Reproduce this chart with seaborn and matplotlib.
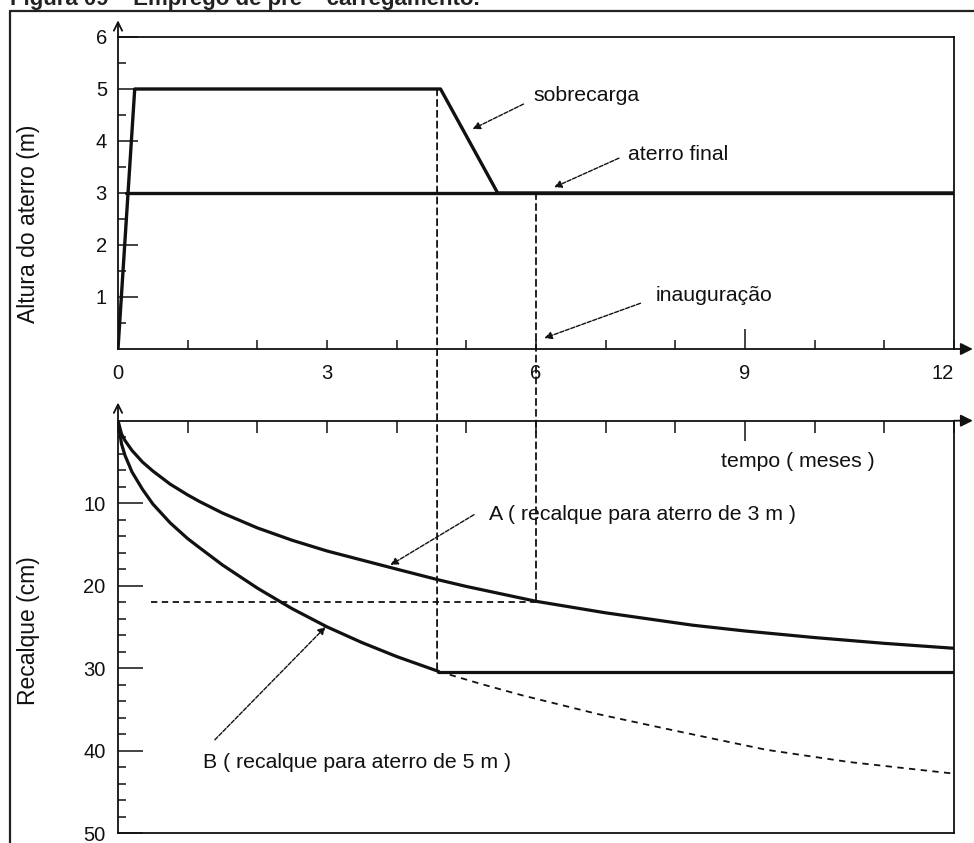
import matplotlib
matplotlib.use("Agg")
import matplotlib.pyplot as plt
from matplotlib.lines import Line2D
from matplotlib.patches import ConnectionPatch
import numpy as np
import seaborn as sns

# ---------------- data ----------------
title = "Figura 09 – Emprego de pré – carregamento."

# upper panel: embankment height (m) vs time (months)
fill_t = [0, 0.24, 4.63, 5.45, 12]
fill_h = [0, 5, 5, 3, 3]
final_t = [0.12, 12]
final_h = [3, 3]

top_xticks = [0, 3, 6, 9, 12]
top_xlabels = ["0", "3", "6", "9", "12"]
top_yticks = [1, 2, 3, 4, 5, 6]
top_ylabels = ["1", "2", "3", "4", "5", "6"]

# lower panel: settlement (cm) vs time (months)
A_t = [0, 0.05, 0.1, 0.2, 0.35, 0.5, 0.75, 1.0, 1.17, 1.5, 2.0, 2.5, 3.0, 3.5, 4.0,
       4.6, 5.0, 5.5, 6.0, 6.5, 7.0, 7.5, 8.25, 9.0, 10.0, 11.0, 12.0]
A_s = [0, 1.6, 2.4, 3.6, 5.0, 6.1, 7.7, 9.0, 9.8, 11.2, 13.0, 14.5, 15.8, 16.9, 18.0,
       19.3, 20.1, 21.0, 21.9, 22.6, 23.3, 23.9, 24.8, 25.5, 26.3, 27.0, 27.6]

B_t = [0, 0.05, 0.1, 0.2, 0.35, 0.5, 0.75, 1.0, 1.17, 1.5, 2.0, 2.32, 2.5, 3.0,
       3.5, 4.0, 4.6]
B_s = [0, 2.8, 4.2, 6.2, 8.3, 10.1, 12.4, 14.3, 15.4, 17.5, 20.3, 21.9, 22.8, 25.0,
       26.9, 28.6, 30.4]

Bflat_t = [4.6, 12]
Bflat_s = [30.5, 30.5]

Bdash_t = [4.6, 5.2, 5.8, 6.9, 8.0, 9.3, 10.5, 12.0]
Bdash_s = [30.4, 31.9, 33.3, 35.6, 37.6, 39.9, 41.4, 42.8]

hdash_t = [0.47, 6.0]
hdash_s = [22, 22]

unload_t = 4.58      # removal of surcharge
inaug_t = 6.0        # inauguration

bot_yticks = [10, 20, 30, 40, 50]
bot_ylabels = ["10", "20", "30", "40", "50"]

# ---------------- style ----------------
sns.set_theme(style="white")
plt.rcParams["font.family"] = ["Liberation Sans", "DejaVu Sans"]
plt.rcParams["axes.edgecolor"] = "#111111"
plt.rcParams["axes.linewidth"] = 1.3

W, H = 974, 843
fig = plt.figure(figsize=(W / 100, H / 100), dpi=100)
fig.patch.set_facecolor("white")

def fx(px):
    return px / W

def fy(py):
    return 1 - py / H

x0, x1 = 118, 954
ax1 = fig.add_axes([fx(x0), fy(349), fx(x1) - fx(x0), fy(37) - fy(349)])
ax2 = fig.add_axes([fx(x0), fy(833), fx(x1) - fx(x0), fy(420.7) - fy(833)])

K = "#111111"
tick_fs = 14.5
ann_fs = 15.3
lab_fs = 16.5

# ---------- upper panel ----------
sns.lineplot(x=fill_t, y=fill_h, ax=ax1, color=K, lw=2.4, sort=False, estimator=None)
sns.lineplot(x=final_t, y=final_h, ax=ax1, color=K, lw=2.4, sort=False, estimator=None)
ax1.set_xlim(0, 12)
ax1.set_ylim(0, 6)
ax1.set_xticks(top_xticks)
ax1.set_xticklabels(top_xlabels, fontsize=tick_fs)
ax1.set_xticks(np.arange(1, 12), minor=True)
ax1.set_yticks(top_yticks)
ax1.set_yticklabels(top_ylabels, fontsize=tick_fs)
ax1.set_yticks(np.arange(0.5, 6, 1.0), minor=True)
ax1.tick_params(axis="x", which="both", direction="in", length=6.5, width=1.1,
                color=K, pad=11, labelcolor=K)
ax1.tick_params(axis="y", which="major", direction="in", length=14.5, width=1.1,
                color=K, pad=8, labelcolor=K)
ax1.tick_params(axis="y", which="minor", direction="in", length=5.5, width=1.1, color=K)
ax1.tick_params(axis="both", which="both", left=True, bottom=True)
ax1.get_xticklabels()[-1].set_horizontalalignment("right")
ax1.set_xlabel("")
ax1.set_ylabel("Altura do aterro (m)", fontsize=lab_fs, color=K)
ax1.yaxis.set_label_coords(-0.093, 0.40)
for s in ax1.spines.values():
    s.set_color(K)

# axis arrows (upper)
ax1.annotate("", xy=(12.27, 0), xytext=(12, 0), xycoords="data",
             arrowprops=dict(arrowstyle="-|>", color=K, lw=1.3, mutation_scale=18,
                             shrinkA=0, shrinkB=0), annotation_clip=False)
ax1.annotate("", xy=(0, 6.32), xytext=(0, 6), xycoords="data",
             arrowprops=dict(arrowstyle="->", color=K, lw=1.3, mutation_scale=15,
                             shrinkA=0, shrinkB=0), annotation_clip=False)

arrow_kw = dict(arrowstyle="-|>", color=K, lw=1.0, mutation_scale=11,
                linestyle=(0, (3, 1.2)), shrinkA=0, shrinkB=0)

ax1.text(5.96, 4.87, "sobrecarga", fontsize=ann_fs, color=K, va="center", ha="left")
ax1.annotate("", xy=(5.09, 4.23), xytext=(5.82, 4.71), arrowprops=arrow_kw)
ax1.text(7.32, 3.75, "aterro final", fontsize=ann_fs, color=K, va="center", ha="left")
ax1.annotate("", xy=(6.26, 3.11), xytext=(7.19, 3.67), arrowprops=arrow_kw)
ax1.text(7.71, 1.02, "inauguração", fontsize=ann_fs, color=K, va="center", ha="left")
ax1.annotate("", xy=(6.12, 0.21), xytext=(7.5, 0.88), arrowprops=arrow_kw)

# ---------- lower panel ----------
sns.lineplot(x=A_t, y=A_s, ax=ax2, color=K, lw=2.3, sort=False, estimator=None)
sns.lineplot(x=B_t, y=B_s, ax=ax2, color=K, lw=2.3, sort=False, estimator=None)
sns.lineplot(x=Bflat_t, y=Bflat_s, ax=ax2, color=K, lw=2.3, sort=False, estimator=None)
sns.lineplot(x=Bdash_t, y=Bdash_s, ax=ax2, color=K, lw=1.3, sort=False, estimator=None,
             linestyle=(0, (3.5, 3)))
sns.lineplot(x=hdash_t, y=hdash_s, ax=ax2, color=K, lw=1.3, sort=False, estimator=None,
             linestyle=(0, (3.5, 2.5)))
ax2.set_xlim(0, 12)
ax2.set_ylim(50, 0)
ax2.set_xticks(top_xticks)
ax2.set_xticks(np.arange(1, 12), minor=True)
ax2.set_yticks(bot_yticks)
ax2.set_yticklabels(bot_ylabels, fontsize=tick_fs)
ax2.set_yticks(np.arange(2, 50, 2), minor=True)
ax2.tick_params(axis="x", which="both", direction="in", length=8.5, width=1.1, color=K,
                top=True, bottom=False, labelbottom=False, labeltop=False)
ax2.tick_params(axis="y", which="major", direction="in", length=18, width=1.1,
                color=K, pad=9, labelcolor=K, left=True)
ax2.tick_params(axis="y", which="minor", direction="in", length=5.5, width=1.1,
                color=K, left=True)
ax2.set_xlabel("")
ax2.set_ylabel("Recalque (cm)", fontsize=lab_fs, color=K)
ax2.yaxis.set_label_coords(-0.093, 0.49)
for s in ax2.spines.values():
    s.set_color(K)

ax2.annotate("", xy=(12.27, 0), xytext=(12, 0), xycoords="data",
             arrowprops=dict(arrowstyle="-|>", color=K, lw=1.3, mutation_scale=18,
                             shrinkA=0, shrinkB=0), annotation_clip=False)
ax2.annotate("", xy=(0, -2.2), xytext=(0, 0), xycoords="data",
             arrowprops=dict(arrowstyle="->", color=K, lw=1.3, mutation_scale=15,
                             shrinkA=0, shrinkB=0), annotation_clip=False)

ax2.text(8.65, 5.0, "tempo ( meses )", fontsize=ann_fs, color=K, va="center", ha="left")
ax2.text(5.32, 11.4, "A ( recalque para aterro de 3 m )", fontsize=ann_fs, color=K,
         va="center", ha="left")
ax2.annotate("", xy=(3.91, 17.5), xytext=(5.11, 11.4), arrowprops=arrow_kw)
ax2.text(1.22, 41.5, "B ( recalque para aterro de 5 m )", fontsize=ann_fs, color=K,
         va="center", ha="left")
ax2.annotate("", xy=(2.98, 25.0), xytext=(1.39, 38.7), arrowprops=arrow_kw)

# long ticks at 9 months
for ax in (ax1, ax2):
    t9 = ax.xaxis.get_major_ticks()[3]
    t9.tick1line.set_markersize(14.5)
    t9.tick2line.set_markersize(14.5)

# vertical dashed guide lines across both panels
for (tt, h_top, s_bot) in [(unload_t, 5, 30.4), (inaug_t, 3, 22)]:
    cp = ConnectionPatch(xyA=(tt, h_top), coordsA=ax1.transData,
                         xyB=(tt, s_bot), coordsB=ax2.transData,
                         color=K, lw=1.3, linestyle=(0, (3.5, 2.5)))
    fig.add_artist(cp)

# outer frame and cropped title
fig.add_artist(Line2D([fx(10), fx(10)], [0, fy(11)], transform=fig.transFigure,
                      color="#222222", lw=1.6))
fig.add_artist(Line2D([fx(10), 1], [fy(11), fy(11)], transform=fig.transFigure,
                      color="#222222", lw=1.6))
fig.text(fx(10), fy(5), title, fontsize=16, fontweight="bold", color="#222222",
         ha="left", va="baseline")

fig.savefig("out.png", dpi=100, facecolor="white")
